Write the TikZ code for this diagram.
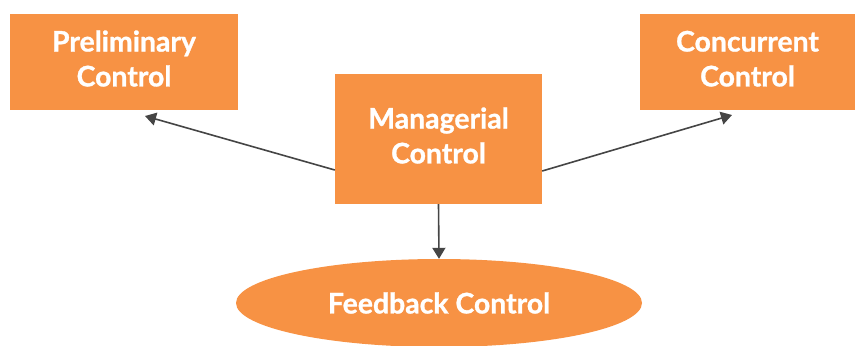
\documentclass[tikz,border=0pt]{standalone}
\usepackage{fontspec}
\setmainfont{Lato}[BoldFeatures={FakeBold=1}]
\usetikzlibrary{shapes.geometric,arrows.meta}
\definecolor{boxorange}{HTML}{F79244}
\definecolor{arrowgray}{HTML}{454545}
\newcommand{\twolines}[2]{\raisebox{2bp}{\begin{tabular}{@{}c@{}}#1\\#2\end{tabular}}}
\tikzset{
  box/.style={fill=boxorange, draw=none, text=white, font=\bfseries\fontsize{28.5}{35}\selectfont, align=center, inner sep=0pt},
  conn/.style={draw=arrowgray, line width=1.6bp, -{Triangle[length=11bp,width=13bp]}}
}
\begin{document}
\begin{tikzpicture}[x=1bp,y=-1bp]
\useasboundingbox (0,0) rectangle (855,345);
\node[box, minimum width=228bp, minimum height=96bp] (pre) at (124,62) {\twolines{Preliminary}{Control}};
\node[box, minimum width=207bp, minimum height=130bp] (man) at (438.5,139) {\twolines{Managerial}{Control}};
\node[box, minimum width=215bp, minimum height=96bp] (con) at (747.5,62) {\twolines{Concurrent}{Control}};
\node[box, ellipse, minimum width=406bp, minimum height=88bp] (fb) at (439,303) {Feedback Control};
\coordinate (pl) at (145,116);
\coordinate (cr) at (732,115);
\draw[conn] (man.west |- 0,170) -- (pl);
\draw[conn] (man.east |- 0,171) -- (cr);
\draw[conn] (man.south) -- (fb.north);
\end{tikzpicture}
\end{document}
